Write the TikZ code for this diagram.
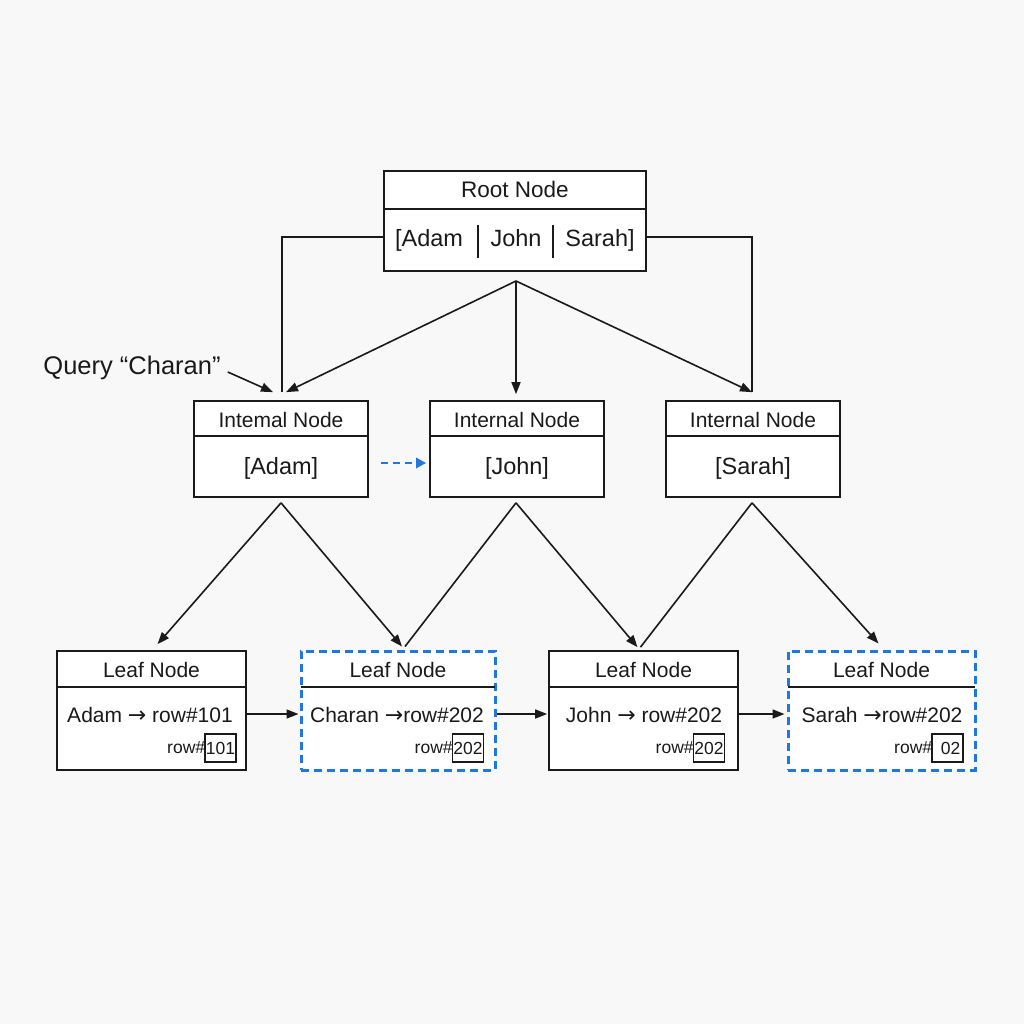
\documentclass[tikz,border=0pt]{standalone}
\usepackage{fontspec}
\setmainfont{Liberation Sans}
\newfontfamily\arrowfont{DejaVu Sans}
\usetikzlibrary{arrows.meta,calc}
\definecolor{bgc}{HTML}{F8F8F8}
\definecolor{hiblue}{HTML}{1F78E0}
\definecolor{ink}{HTML}{1A1A1A}
\newcommand{\toarrow}{{\arrowfont\fontsize{22}{24}\selectfont →}}
\begin{document}
\begin{tikzpicture}[x=1pt,y=-1pt,
  frame/.style={draw=ink,line width=1.7pt,inner sep=0pt,fill=white},
  hiframe/.style={draw=hiblue,line width=3pt,dash pattern=on 8pt off 5pt,inner sep=0pt,fill=white},
  rule/.style={draw=ink,line width=1.7pt},
  conn/.style={draw=ink,line width=1.6pt},
  arr/.style={conn,-{Triangle[length=12pt,width=9pt]}},
  hiarr/.style={draw=hiblue,line width=2.8pt,dash pattern=on 7pt off 5pt,-{Triangle[length=10pt,width=10pt]}},
  rootst/.style={font=\fontsize{22.5}{26}\selectfont,text=ink,anchor=base},
  head/.style={font=\fontsize{21}{25}\selectfont,text=ink,anchor=base},
  key/.style={font=\fontsize{23.5}{27}\selectfont,text=ink,anchor=base},
  entry/.style={font=\fontsize{21}{25}\selectfont,text=ink,anchor=base},
  small/.style={font=\fontsize{17.5}{20}\selectfont,text=ink,inner sep=0pt},
  rowbox/.style={draw=ink,line width=1.3pt,minimum width=31pt,minimum height=28pt,inner sep=0pt,font=\fontsize{17.5}{20}\selectfont,text=ink}
]
\fill[bgc] (0,0) rectangle (1024,1024);
\useasboundingbox (0,0) rectangle (1024,1024);

% ---------- root ----------
\node[frame,minimum width=262pt,minimum height=100pt] (root) at (515,221) {};
\draw[rule] (root.west |- 0,209) -- (root.east |- 0,209);
\node[rootst] (roott) at (515,198) {Root Node};
\node[key] (rk1) at (429,247) {[Adam};
\node[key] (rk2) at (516,247) {John};
\node[key] (rk3) at (600,247) {Sarah]};
\draw[rule] (478,225) -- (478,258);
\draw[rule] (553,225) -- (553,258);

% ---------- internal level ----------
\node[frame,minimum width=174pt,minimum height=96pt] (in1) at (281,449) {};
\node[frame,minimum width=174pt,minimum height=96pt] (in2) at (517,449) {};
\node[frame,minimum width=174pt,minimum height=96pt] (in3) at (753,449) {};
\foreach \n in {in1,in2,in3}{\draw[rule] (\n.west |- 0,436) -- (\n.east |- 0,436);}
\node[head] (in1t) at (281,427) {Intemal Node};
\node[head] (in2t) at (517,427) {Internal Node};
\node[head] (in3t) at (753,427) {Internal Node};
\node[key] (in1k) at (281,474) {[Adam]};
\node[key] (in2k) at (517,474) {[John]};
\node[key] (in3k) at (753,474) {[Sarah]};

% ---------- leaf level ----------
\node[frame,minimum width=189pt,minimum height=119pt] (lf1) at (151.5,710.5) {};
\node[hiframe,minimum width=194pt,minimum height=119pt] (lf2) at (398,710.5) {};
\node[frame,minimum width=189pt,minimum height=119pt] (lf3) at (643.5,710.5) {};
\node[hiframe,minimum width=187pt,minimum height=119pt] (lf4) at (881.5,710.5) {};
\draw[rule] (57,687) -- (246,687);
\draw[rule] (301,687) -- (495,687);
\draw[rule] (549,687) -- (738,687);
\draw[rule] (788,687) -- (975,687);
\node[head] (lf1t) at (151.5,677) {Leaf Node};
\node[head] (lf2t) at (398,677) {Leaf Node};
\node[head] (lf3t) at (643.5,677) {Leaf Node};
\node[head] (lf4t) at (881.5,677) {Leaf Node};
\node[entry] (lf1e) at (150,722) {Adam \toarrow\ row\#101};
\node[entry] (lf2e) at (397,722) {Charan \toarrow row\#202};
\node[entry] (lf3e) at (644,722) {John \toarrow\ row\#202};
\node[entry] (lf4e) at (882,722) {Sarah \toarrow row\#202};

\node[rowbox] (rb1) at (220.5,748) {101};
\node[rowbox] (rb2) at (468,748) {202};
\node[rowbox] (rb3) at (709,748) {202};
\node[rowbox] (rb4) at (947.5,748) {\hspace*{6pt}02};
\node[small,anchor=east] (rl1) at ($(rb1.west)+(1,0)$) {row\#};
\node[small,anchor=east] (rl2) at ($(rb2.west)+(1,0)$) {row\#};
\node[small,anchor=east] (rl3) at ($(rb3.west)+(1,0)$) {row\#};
\node[small,anchor=east] (rl4) at ($(rb4.west)+(1,0)$) {row\#};

% ---------- root to internal ----------
\draw[conn] (root.west |- 0,237) -| ($(in1.north)+(1,-8)$);
\draw[conn] (root.east |- 0,237) -| ($(in3.north)+(-1,-8)$);
\coordinate (rapex) at (516,281);
\draw[arr] (rapex) -- ($(in1.north)+(5,-8)$);
\draw[arr] (rapex) -- ($(in2.north)+(-1,-6)$);
\draw[arr] (rapex) -- ($(in3.north)+(-1,-8)$);

% ---------- query label ----------
\node[font=\fontsize{25.5}{29}\selectfont,text=ink,inner sep=0pt] (query) at (132,368) {Query “Charan”};
\draw[arr] ($(query.east)+(7,4)$) -- ($(in1.north)+(-8,-8)$);

% ---------- sibling link ----------
\draw[hiarr] ($(in1.east)+(12,14)$) -- ($(in2.west)+(-3,14)$);

% ---------- internal to leaf ----------
\coordinate (a1) at ($(in1.south)+(0,5)$);
\coordinate (a2) at ($(in2.south)+(-1,5)$);
\coordinate (a3) at ($(in3.south)+(-1,5)$);
\draw[arr] (a1) -- ($(lf1.north)+(6,-6)$);
\draw[arr] (a1) -- ($(lf2.north)+(4,-3)$);
\draw[conn] (a2) -- ($(lf2.north)+(7,-3)$);
\draw[arr] (a2) -- ($(lf3.north)+(-6,-3)$);
\draw[conn] (a3) -- ($(lf3.north)+(-3,-3)$);
\draw[arr] (a3) -- ($(lf4.north)+(-3,-6)$);

% ---------- leaf chain ----------
\draw[arr] (lf1.east |- 0,714) -- ($(lf2.west |- 0,714)+(-1,0)$);
\draw[arr] (lf2.east |- 0,714) -- ($(lf3.west |- 0,714)+(-1,0)$);
\draw[arr] (lf3.east |- 0,714) -- ($(lf4.west |- 0,714)+(-2,0)$);
\end{tikzpicture}
\end{document}
